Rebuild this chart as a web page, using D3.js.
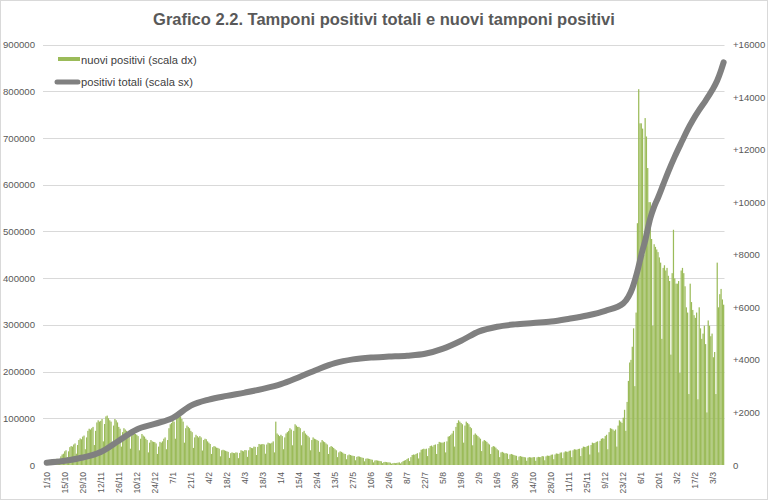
<!DOCTYPE html>
<html><head><meta charset="utf-8">
<script src="https://cdn.jsdelivr.net/npm/d3@7"></script>
<style>html,body{margin:0;padding:0;background:#fff}svg{display:block}</style>
</head><body><svg id="c" width="768" height="502"></svg>
<script>
const chartTitle = "Grafico 2.2. Tamponi positivi totali e nuovi tamponi positivi";
const legendLabels = ["nuovi positivi (scala dx)", "positivi totali (scala sx)"];
const startDate = "2020-10-01";

// daily new positives (right scale), one row per week starting Thursday 1/10/2020
const newPositives = [
 90,110,60,100,150,170,160,
 200,240,120,230,330,400,430,
 520,560,300,520,680,720,700,
 780,820,430,760,950,1010,980,
 1080,1120,600,1050,1300,1380,1350,
 1400,1450,760,1300,1620,1700,1650,
 1680,1750,900,1560,1850,1880,1780,
 1700,1650,850,1500,1750,1700,1620,
 1450,1380,700,1250,1400,1350,1300,
 1250,1200,620,1100,1280,1250,1180,
 1150,1100,560,1000,1180,1120,1080,
 1000,950,480,850,950,900,880,
 870,820,420,700,880,850,900,
 1000,1050,600,950,1400,1550,1600,
 1700,1650,1000,1800,1950,1900,1850,
 1750,1650,850,1400,1500,1450,1400,
 1300,1250,650,1050,1150,1100,1050,
 1100,1050,550,950,1000,980,900,
 850,800,420,680,720,700,660,
 650,620,330,560,580,560,540,
 520,500,270,450,480,460,450,
 480,470,260,460,560,540,520,
 570,560,310,560,680,650,640,
 700,690,380,690,800,780,790,
 800,780,430,780,850,830,820,
 850,900,480,1650,1200,1150,1100,
 1150,1100,600,1050,1200,1250,1300,
 1400,1350,750,1300,1550,1500,1450,
 1450,1400,750,1250,1300,1200,1150,
 1100,1050,560,950,1050,1000,980,
 950,920,500,860,950,900,870,
 820,780,420,680,720,690,650,
 600,560,300,480,520,500,470,
 430,420,220,370,400,380,360,
 350,340,180,310,330,320,300,
 280,270,140,240,250,240,230,
 210,200,100,170,180,170,160,
 150,140,70,110,120,110,100,
 100,90,50,70,80,70,80,
 90,100,60,110,150,170,190,
 230,260,150,300,380,400,390,
 420,450,250,480,580,600,620,
 600,620,340,640,720,740,700,
 760,780,420,800,880,860,850,
 850,880,480,900,1080,1100,1150,
 1200,1300,700,1450,1600,1700,1650,
 1600,1550,850,1500,1650,1600,1550,
 1450,1400,750,1150,1200,1150,1100,
 1050,1000,530,900,950,920,880,
 820,780,420,680,720,700,660,
 600,560,300,480,500,470,440,
 450,430,230,400,420,400,380,
 360,350,180,320,340,320,310,
 300,290,160,280,300,290,280,
 300,300,160,290,310,300,300,
 340,330,180,330,360,350,350,
 390,400,220,400,440,430,420,
 470,480,260,480,520,510,500,
 540,550,300,560,600,590,580,
 610,620,340,640,700,690,680,
 720,740,400,760,850,830,840,
 880,900,480,920,1000,1020,1000,
 1100,1150,600,1250,1400,1380,1350,
 1300,1350,700,1500,1700,1650,1600,
 1800,2100,1300,2400,3200,3900,4000,
 4500,5200,3000,5800,9200,14300,13000,
 13000,12800,8000,13200,12500,11300,10000,
 10000,8600,5300,8400,8300,8200,8100,
 7900,7700,4800,7500,7600,7400,7500,
 7200,7000,4200,7300,8950,7100,6900,
 6900,7000,3500,7400,7500,7300,6800,
 6000,5800,2700,6900,6200,5900,5700,
 5600,5800,2500,6000,5200,4800,5000,
 5300,4600,2000,5500,5300,4900,5000,
 4100,4300,2700,7700,6000,6500,6700,
 6300,6100
];

// total positives (left scale), read at these dates
const totalDates = ["2020-10-01","2020-10-15","2020-10-29","2020-11-12","2020-11-26","2020-12-10","2020-12-24",
 "2021-01-07","2021-01-21","2021-02-04","2021-02-18","2021-03-04","2021-03-18","2021-04-01","2021-04-15",
 "2021-04-29","2021-05-13","2021-05-27","2021-06-10","2021-06-24","2021-07-08","2021-07-22","2021-08-05",
 "2021-08-19","2021-09-02","2021-09-16","2021-09-30","2021-10-14","2021-10-28","2021-11-11","2021-11-25",
 "2021-12-09","2021-12-23","2021-12-27","2021-12-30","2022-01-01","2022-01-03","2022-01-05","2022-01-07",
 "2022-01-09","2022-01-11","2022-01-13","2022-01-16","2022-01-19","2022-01-23","2022-01-27","2022-02-01",
 "2022-02-07","2022-02-11","2022-02-15","2022-02-20","2022-02-25","2022-03-02","2022-03-06","2022-03-09","2022-03-11"];
const totalValues = [5000,9000,16000,28000,52000,76000,88000,
 101000,127000,140000,148000,155000,163000,173000,188000,
 204000,218000,226000,230000,232000,234000,238000,249000,
 266000,286000,296000,301000,304000,307000,313000,320000,
 330000,346000,360000,378000,395000,415000,438000,460000,
 480000,505000,528000,553000,572000,600000,628000,660000,
 695000,718000,738000,760000,780000,802000,823000,845000,862000];

const tickLabels = ["1/10","15/10","29/10","12/11","26/11","10/12","24/12","7/1","21/1","4/2","18/2","4/3","18/3",
 "1/4","15/4","29/4","13/5","27/5","10/6","24/6","8/7","22/7","5/8","19/8","2/9","16/9","30/9","14/10","28/10",
 "11/11","25/11","9/12","23/12","6/1","20/1","3/2","17/2","3/3"];
const leftTicks = [0,100000,200000,300000,400000,500000,600000,700000,800000,900000];
const rightTicks = [0,2000,4000,6000,8000,10000,12000,14000,16000];

const FONT = "'Liberation Sans', Arial, sans-serif";
const TXT = "#595959";
const svg = d3.select("#c");
svg.append("rect").attr("x",0.5).attr("y",0.5).attr("width",767).attr("height",499)
  .attr("fill","#fff").attr("stroke","#d9d9d9");

const parse = d3.utcParse("%Y-%m-%d");
const t0 = parse(startDate);
const days = d3.utcDay.range(t0, d3.utcDay.offset(t0, newPositives.length));
const x = d3.scaleBand().domain(days.map(d => +d)).range([46.06, 724.3]).paddingInner(0.04).paddingOuter(0.02);
const bw = x.bandwidth();
const cx = d => x(+d) + bw / 2;
const yL = d3.scaleLinear().domain([0, 900000]).range([465, 44.5]);
const yR = d3.scaleLinear().domain([0, 16000]).range([465, 44.5]);

// gridlines
svg.append("g").selectAll("line").data(leftTicks.filter(t => t > 0)).join("line")
  .attr("x1", 43).attr("x2", 724.5)
  .attr("y1", d => Math.round(yL(d)) + 0.5).attr("y2", d => Math.round(yL(d)) + 0.5)
  .attr("stroke", "#d9d9d9").attr("stroke-width", 1);

// left axis
const gL = svg.append("g").attr("transform", "translate(38,0)")
  .call(d3.axisLeft(yL).tickValues(leftTicks).tickSize(0).tickPadding(3).tickFormat(d3.format("d")));
gL.select(".domain").remove();
gL.selectAll("text").attr("fill", TXT).style("font-family", FONT).style("font-size", "9.6px");

// right axis
const gR = svg.append("g").attr("transform", "translate(730,0)")
  .call(d3.axisRight(yR).tickValues(rightTicks).tickSize(0).tickPadding(3)
    .tickFormat(d => d === 0 ? "0" : "+" + d));
gR.select(".domain").remove();
gR.selectAll("text").attr("fill", TXT).style("font-family", FONT).style("font-size", "9.6px");

// bars
svg.append("g").selectAll("rect").data(newPositives).join("rect")
  .attr("x", (v, i) => x(+days[i]))
  .attr("width", bw)
  .attr("y", v => yR(v))
  .attr("height", v => yR(0) - yR(v))
  .attr("fill", "#9bbb59");

// bottom axis
const tickDays = days.filter((d, i) => i % 14 === 0).slice(0, tickLabels.length).map(d => +d);
const gB = svg.append("g").attr("transform", "translate(0,465)")
  .call(d3.axisBottom(x).tickValues(tickDays).tickSize(0).tickFormat((d, i) => tickLabels[i]));
gB.select(".domain").remove();
gB.selectAll("text")
  .attr("transform", "rotate(-90)")
  .attr("x", -7).attr("y", 0).attr("dy", "0.33em")
  .style("text-anchor", "end")
  .attr("fill", TXT).style("font-family", FONT).style("font-size", "8.6px");

// total line
const linePts = totalDates.map((d, i) => ({ d: parse(d), v: totalValues[i] }));
svg.append("path").datum(linePts)
  .attr("d", d3.line().x(p => cx(p.d)).y(p => yL(p.v)).curve(d3.curveMonotoneX))
  .attr("fill", "none").attr("stroke", "#808080").attr("stroke-width", 6)
  .attr("stroke-linecap", "round").attr("stroke-linejoin", "round");

// legend
const lg = svg.append("g").style("font-family", FONT).style("font-size", "11.2px");
lg.append("rect").attr("x", 58).attr("y", 57).attr("width", 22).attr("height", 4).attr("fill", "#9bbb59");
lg.append("text").attr("x", 81).attr("y", 63.5).attr("fill", "#404040").text(legendLabels[0]);
lg.append("line").attr("x1", 57).attr("x2", 78).attr("y1", 82).attr("y2", 82)
  .attr("stroke", "#808080").attr("stroke-width", 5).attr("stroke-linecap", "round");
lg.append("text").attr("x", 81).attr("y", 86).attr("fill", "#404040").text(legendLabels[1]);

// title
svg.append("text").attr("x", 384).attr("y", 24.5).attr("text-anchor", "middle")
  .style("font-family", FONT).style("font-size", "16.5px").style("font-weight", "bold")
  .attr("fill", TXT).text(chartTitle);
</script>
</body></html>
